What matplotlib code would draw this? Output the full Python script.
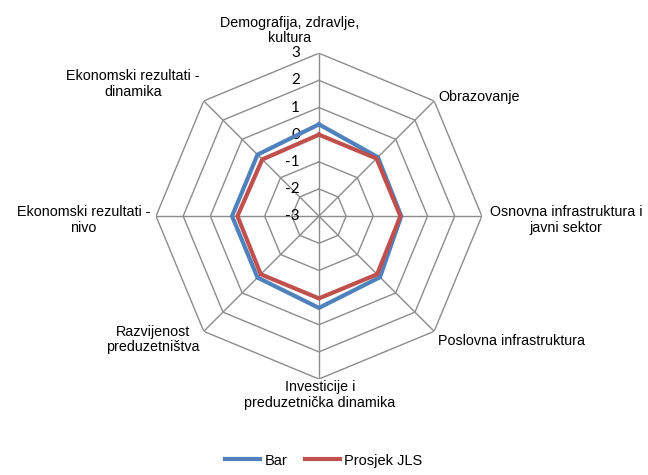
"""
Radar chart: Bar vs. Prosjek JLS across eight development areas.
"""

import numpy as np
import matplotlib
matplotlib.use("Agg")
import matplotlib.pyplot as plt

categories = [
    "Demografija, zdravlje,\nkultura",
    "Obrazovanje",
    "Osnovna infrastruktura i\njavni sektor",
    "Poslovna infrastruktura",
    "Investicije i\npreduzetnička dinamika",
    "Razvijenost\npreduzetništva",
    "Ekonomski rezultati -\nnivo",
    "Ekonomski rezultati -\ndinamika",
]
bar_values = [0.38, 0.07, 0.03, 0.18, 0.38, 0.2, 0.2, 0.2]
avg_values = [0.0, 0.0, 0.0, 0.03, 0.03, 0.03, 0.0, -0.05]
levels = [-3, -2, -1, 0, 1, 2, 3]
series_names = ["Bar", "Prosjek JLS"]

BLUE = "#4F81BD"
RED = "#C0504D"
GRID = "#8C8C8C"

plt.rcParams["font.family"] = ["Liberation Sans", "DejaVu Sans"]

fig = plt.figure(figsize=(6.48, 4.75), dpi=100)
ax = fig.add_axes([0.2407, 0.202, 0.503, 0.686], projection="polar")
ax.set_theta_offset(np.pi / 2)
ax.set_theta_direction(-1)
ax.set_ylim(levels[0], levels[-1])
ax.grid(False)
ax.spines["polar"].set_visible(False)
ax.set_xticks([])
ax.set_yticks([])
ax.patch.set_visible(False)

n = len(categories)
angles = np.linspace(0, 2 * np.pi, n, endpoint=False)
closed = np.append(angles, angles[0])

# octagon rings and spokes
for lvl in levels[1:]:
    ax.plot(closed, [lvl] * (n + 1), color=GRID, lw=1, zorder=1)
for a in angles:
    ax.plot([a, a], [levels[0], levels[-1]], color=GRID, lw=1, zorder=1)

# value labels along the top spoke
for lvl in levels:
    ax.annotate(str(lvl), xy=(0, lvl), xytext=(-19, 0),
                textcoords="offset pixels", ha="right", va="center",
                fontsize=11, family=["Lato", "DejaVu Sans"])

# series
ax.plot(closed, bar_values + bar_values[:1], color=BLUE, lw=3,
        label=series_names[0], zorder=3, solid_joinstyle="miter")
ax.plot(closed, avg_values + avg_values[:1], color=RED, lw=3,
        label=series_names[1], zorder=4, solid_joinstyle="miter")

# category labels: (offset x, offset y in pixels, ha, va)
placements = [
    (-29, 8, "center", "bottom"),
    (4, 4, "left", "center"),
    (8, -4, "left", "center"),
    (4, -3, "left", "top"),
    (1, -1, "center", "top"),
    (-4, -8, "right", "center"),
    (-6, -4, "right", "center"),
    (-4, 17, "right", "center"),
]
for a, label, (dx, dy, ha, va) in zip(angles, categories, placements):
    ax.annotate(label, xy=(a, levels[-1]), xytext=(dx, dy),
                textcoords="offset pixels", ha=ha, va=va,
                multialignment="center", fontsize=10.3, linespacing=1.15,
                annotation_clip=False)

fig.legend(loc="lower center", bbox_to_anchor=(0.5, -0.012), ncol=2,
           frameon=False, fontsize=10.5, handlelength=2.4, handletextpad=0.3,
           columnspacing=1.2)

fig.savefig("out.png", dpi=100)
